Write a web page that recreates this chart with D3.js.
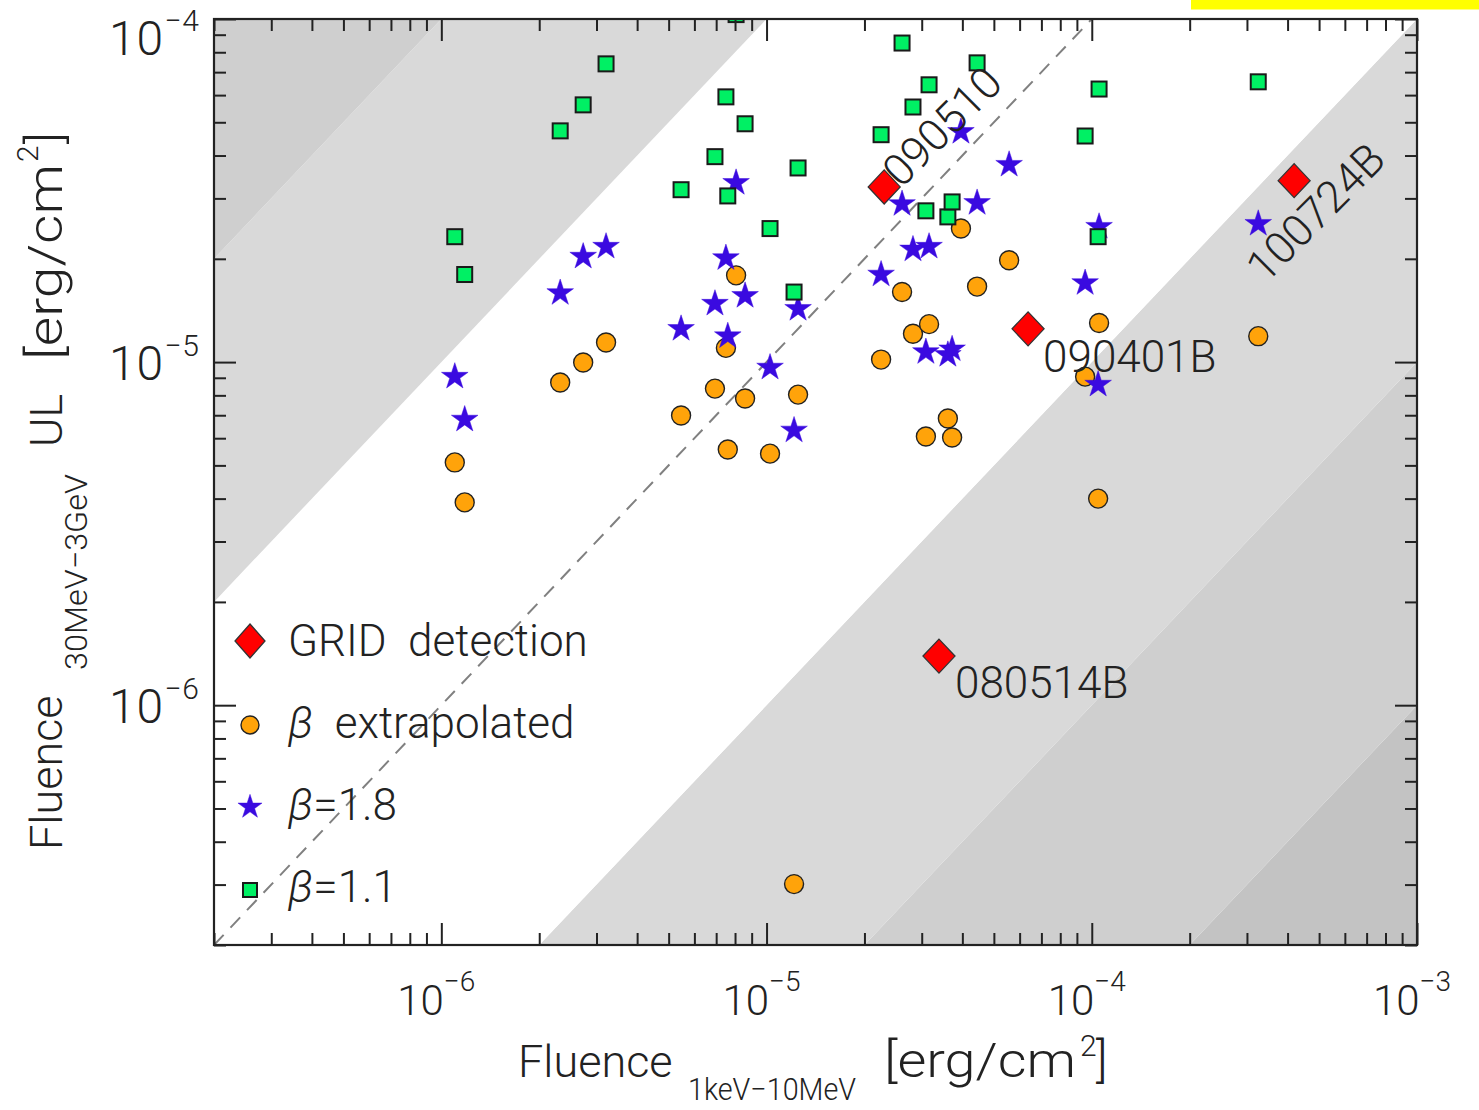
<!DOCTYPE html>
<html>
<head>
<meta charset="utf-8">
<script src="https://cdn.jsdelivr.net/npm/d3@7"></script>
<style>
  body { margin: 0; background: #fff; }
  svg { display: block; }
  text { font-family: Roboto, "DejaVu Sans", sans-serif; font-weight: 300; fill: #222; white-space: pre; }
</style>
</head>
<body>
<svg id="chart" width="1479" height="1110"></svg>
<script>
// Prompt fluence (1 keV - 10 MeV) of each burst, erg/cm^2
const burstFluence = [
  1.10e-6, 1.18e-6, 2.32e-6, 2.73e-6, 3.21e-6, 5.46e-6, 6.94e-6, 7.50e-6, 7.60e-6, 8.06e-6,
  8.59e-6, 1.025e-5, 1.25e-5, 1.215e-5, 2.25e-5, 2.61e-5, 2.82e-5, 3.16e-5, 3.09e-5, 3.61e-5,
  3.72e-5, 3.96e-5, 4.44e-5, 5.57e-5, 9.54e-5, 1.053e-4, 1.046e-4, 3.25e-4
];
// 30 MeV - 3 GeV fluence upper limits, one per burst (null = above the plotted range)
const ulBetaExtrapolated = [
  5.10e-6, 3.90e-6, 8.72e-6, 9.97e-6, 1.14e-5, 6.99e-6, 8.37e-6, 1.10e-5, 5.56e-6, 1.79e-5,
  7.83e-6, 5.41e-6, 8.04e-6, 3.01e-7, 1.017e-5, 1.60e-5, 1.21e-5, 1.29e-5, 6.07e-6, 6.85e-6,
  6.03e-6, 2.45e-5, 1.66e-5, 1.98e-5, 9.07e-6, 1.30e-5, 4.00e-6, 1.19e-5
];
const ulBeta18 = [
  9.07e-6, 6.80e-6, 1.59e-5, 2.03e-5, 2.17e-5, 1.25e-5, 1.48e-5, 2.01e-5, 1.19e-5, 3.33e-5,
  1.56e-5, 9.64e-6, 1.43e-5, 6.32e-6, 1.80e-5, 2.89e-5, 2.13e-5, 2.17e-5, 1.07e-5, 1.05e-5,
  1.09e-5, 4.69e-5, 2.91e-5, 3.76e-5, 1.70e-5, 2.48e-5, 8.60e-6, 2.53e-5
];
const ulBeta11 = [
  2.32e-5, 1.80e-5, 4.72e-5, 5.62e-5, 7.40e-5, 3.18e-5, 3.97e-5, 5.93e-5, 3.05e-5, 1.03e-4,
  4.95e-5, 2.45e-5, 3.68e-5, 1.60e-5, 4.60e-5, 8.51e-5, 5.54e-5, 6.43e-5, 2.76e-5, 2.65e-5,
  2.93e-5, null, 7.45e-5, null, 4.56e-5, 6.25e-5, 2.32e-5, 6.56e-5
];

// Bursts detected by the GRID instrument
const gridNames = ["090510", "090401B", "080514B", "100724B"];
const gridFluence = [2.30e-5, 6.37e-5, 3.39e-5, 4.19e-4];
const gridUL = [3.24e-5, 1.25e-5, 1.39e-6, 3.38e-5];

// UL / fluence ratios that bound the shaded bands
const bandRatios = [1e-9, 1e-3, 1e-2, 1e-1, 10, 100, 1e9];

// Axis decades
const xMajorTicks = [1e-6, 1e-5, 1e-4, 1e-3];
const xTickExponents = ["\u22126", "\u22125", "\u22124", "\u22123"];
const yMajorTicks = [1e-6, 1e-5, 1e-4];
const yTickExponents = ["\u22126", "\u22125", "\u22124"];

// ---------------------------------------------------------------------------
const W = 1479, H = 1110;
const plot = { left: 214, right: 1417, top: 19, bottom: 945 };
const bandFills = ["#c3c3c3", "#cfcfcf", "#d9d9d9", "#ffffff", "#d9d9d9", "#cfcfcf"];
const colors = { grid: "#ff0000", extrap: "#ffa30a", b18: "#3a0ae0", b11: "#00f064" };
// label placement relative to each GRID marker: [dx, dy, rotation]
const gridLabelLayout = [[17, 2, -45], [15, 43, 0], [16, 42, 0], [-29, 104, -45]];

const svg = d3.select("#chart");
const x = d3.scaleLog().domain([2e-7, 1e-3]).range([plot.left, plot.right]);
const y = d3.scaleLog().domain([2e-7, 1e-4]).range([plot.bottom, plot.top]);

svg.append("defs").append("clipPath").attr("id", "plotclip")
  .append("rect")
  .attr("x", plot.left).attr("y", plot.top)
  .attr("width", plot.right - plot.left).attr("height", plot.bottom - plot.top);

// strip at the top right of the page
svg.append("rect").attr("x", 1191).attr("y", 0).attr("width", W - 1191).attr("height", 9.5)
  .attr("fill", "#ffff00");

const inner = svg.append("g").attr("clip-path", "url(#plotclip)");

// shaded ratio bands
const xa = 1e-9, xb = 1;
d3.range(bandRatios.length - 1).forEach(i => {
  const lo = bandRatios[i], hi = bandRatios[i + 1];
  const pts = [[xa, lo * xa], [xb, lo * xb], [xb, hi * xb], [xa, hi * xa]]
    .map(([u, v]) => [x(u), y(v)]);
  inner.append("path")
    .attr("d", "M" + pts.map(p => p.join(",")).join("L") + "Z")
    .attr("fill", bandFills[i]);
});

// equality line
inner.append("line")
  .attr("x1", x(2e-7)).attr("y1", y(2e-7))
  .attr("x2", x(1e-4)).attr("y2", y(1e-4))
  .attr("stroke", "#808080").attr("stroke-width", 2)
  .attr("stroke-dasharray", "14,10");

// marker shapes
const diamondPath = (hw, hh) => `M0,${-hh}L${hw},0L0,${hh}L${-hw},0Z`;
const starPath = d3.symbol(d3.symbolStar, 220)();
const SQ = 15;

function drawDiamond(g, cx, cy, hw = 16, hh = 17) {
  g.append("path").attr("d", diamondPath(hw, hh))
    .attr("transform", `translate(${cx},${cy})`)
    .attr("fill", colors.grid).attr("stroke", "#333").attr("stroke-width", 1.3);
}
function drawCircle(g, cx, cy, r = 9.5) {
  g.append("circle").attr("cx", cx).attr("cy", cy).attr("r", r)
    .attr("fill", colors.extrap).attr("stroke", "#222").attr("stroke-width", 1.4);
}
function drawStar(g, cx, cy, s = starPath) {
  g.append("path").attr("d", s).attr("transform", `translate(${cx},${cy})`)
    .attr("fill", colors.b18).attr("stroke", colors.b18).attr("stroke-width", 0.8)
    .attr("stroke-opacity", 0.6);
}
function drawSquare(g, cx, cy, s = SQ) {
  g.append("rect").attr("x", cx - s / 2).attr("y", cy - s / 2)
    .attr("width", s).attr("height", s)
    .attr("fill", colors.b11).attr("stroke", "#1a1a1a").attr("stroke-width", 2);
}

// GRID detections
gridFluence.forEach((f, i) => drawDiamond(inner, x(f), y(gridUL[i])));
// upper limits: extrapolated spectrum, beta = 1.8, beta = 1.1
burstFluence.forEach((f, i) => { if (ulBetaExtrapolated[i] != null) drawCircle(inner, x(f), y(ulBetaExtrapolated[i])); });
burstFluence.forEach((f, i) => { if (ulBeta18[i] != null) drawStar(inner, x(f), y(ulBeta18[i])); });
burstFluence.forEach((f, i) => { if (ulBeta11[i] != null) drawSquare(inner, x(f), y(ulBeta11[i])); });

// GRID burst names
gridNames.forEach((name, i) => {
  const [dx, dy, rot] = gridLabelLayout[i];
  const px = x(gridFluence[i]) + dx, py = y(gridUL[i]) + dy;
  svg.append("text").attr("transform", `translate(${px},${py}) rotate(${rot})`)
    .attr("font-size", 44).text(name);
});

// ---------------------------------------------------------------------------
// axes: inward ticks on all four sides
const minorTicks = (dom) => {
  const out = [];
  for (let e = -8; e <= -3; e++) for (let m = 2; m <= 9; m++) {
    const v = m * Math.pow(10, e);
    if (v >= dom[0] * 0.999 && v <= dom[1] * 1.001) out.push(v);
  }
  return out;
};
const xMinor = minorTicks(x.domain()), yMinor = minorTicks(y.domain());

function tickAxis(axisFn, scale, values, size, transform) {
  const g = svg.append("g").attr("transform", transform)
    .call(axisFn(scale).tickValues(values).tickSizeInner(-size).tickSizeOuter(0).tickFormat(""));
  g.select(".domain").remove();
  g.selectAll(".tick line").attr("stroke", "#222").attr("stroke-width", 2);
  return g;
}
const MAJ = 22, MIN = 12;
tickAxis(d3.axisBottom, x, xMinor, MIN, `translate(0,${plot.bottom})`);
tickAxis(d3.axisBottom, x, xMajorTicks, MAJ, `translate(0,${plot.bottom})`);
tickAxis(d3.axisTop, x, xMinor, MIN, `translate(0,${plot.top})`);
tickAxis(d3.axisTop, x, xMajorTicks, MAJ, `translate(0,${plot.top})`);
tickAxis(d3.axisLeft, y, yMinor, MIN, `translate(${plot.left},0)`);
tickAxis(d3.axisLeft, y, yMajorTicks, MAJ, `translate(${plot.left},0)`);
tickAxis(d3.axisRight, y, yMinor, MIN, `translate(${plot.right},0)`);
tickAxis(d3.axisRight, y, yMajorTicks, MAJ, `translate(${plot.right},0)`);

// frame
svg.append("rect")
  .attr("x", plot.left).attr("y", plot.top)
  .attr("width", plot.right - plot.left).attr("height", plot.bottom - plot.top)
  .attr("fill", "none").attr("stroke", "#222").attr("stroke-width", 2.2);

// tick labels
xMajorTicks.forEach((v, i) => {
  const t = svg.append("text").attr("x", x(v) - 5).attr("y", 1015)
    .attr("text-anchor", "middle").attr("font-size", 42);
  t.append("tspan").text("10");
  t.append("tspan").attr("dy", -24).attr("font-size", 28).text(xTickExponents[i]);
});
yMajorTicks.forEach((v, i) => {
  const t = svg.append("text").attr("x", 200).attr("y", Math.max(y(v), 37) + 18)
    .attr("text-anchor", "end").attr("font-size", 48).attr("letter-spacing", 1);
  t.append("tspan").text("10");
  t.append("tspan").attr("dy", -24).attr("font-size", 30).text(yTickExponents[i]);
});

// axis titles
svg.append("text").attr("x", 518).attr("y", 1077).attr("font-size", 45).text("Fluence");
svg.append("text").attr("x", 688).attr("y", 1100).attr("font-size", 31)
  .attr("textLength", 168).attr("lengthAdjust", "spacingAndGlyphs").text("1keV\u221210MeV");
svg.append("text").attr("x", 884).attr("y", 1077).attr("font-size", 48)
  .attr("textLength", 192).attr("lengthAdjust", "spacingAndGlyphs").text("[erg/cm");
svg.append("text").attr("x", 1080).attr("y", 1056).attr("font-size", 30).text("2");
svg.append("text").attr("x", 1096).attr("y", 1077).attr("font-size", 48).text("]");

const yt = svg.append("g").attr("transform", "rotate(-90)");
yt.append("text").attr("x", -850).attr("y", 62).attr("font-size", 45).text("Fluence");
yt.append("text").attr("x", -670).attr("y", 87).attr("font-size", 32)
  .attr("textLength", 196).attr("lengthAdjust", "spacingAndGlyphs").text("30MeV\u22123GeV");
yt.append("text").attr("x", -447).attr("y", 62).attr("font-size", 45).text("UL");
yt.append("text").attr("x", -360).attr("y", 62).attr("font-size", 49)
  .attr("textLength", 196).attr("lengthAdjust", "spacingAndGlyphs").text("[erg/cm");
yt.append("text").attr("x", -162).attr("y", 38).attr("font-size", 30).text("2");
yt.append("text").attr("x", -144).attr("y", 62).attr("font-size", 49).text("]");

// legend
const legend = svg.append("g");
const lx = 250, tx = 288;
drawDiamond(legend, lx, 641, 15, 17);
legend.append("text").attr("x", tx).attr("y", 656).attr("font-size", 44).text("GRID  detection");
drawCircle(legend, lx, 725, 9);
const l2 = legend.append("text").attr("x", tx).attr("y", 738).attr("font-size", 44);
l2.append("tspan").attr("font-style", "italic").text("\u03b2");
l2.append("tspan").text("  extrapolated");
drawStar(legend, lx, 807, d3.symbol(d3.symbolStar, 180)());
const l3 = legend.append("text").attr("x", tx).attr("y", 820).attr("font-size", 44);
l3.append("tspan").attr("font-style", "italic").text("\u03b2");
l3.append("tspan").text("=1.8");
drawSquare(legend, lx, 890, 14);
const l4 = legend.append("text").attr("x", tx).attr("y", 902).attr("font-size", 44);
l4.append("tspan").attr("font-style", "italic").text("\u03b2");
l4.append("tspan").text("=1.1");
</script>
</body>
</html>
